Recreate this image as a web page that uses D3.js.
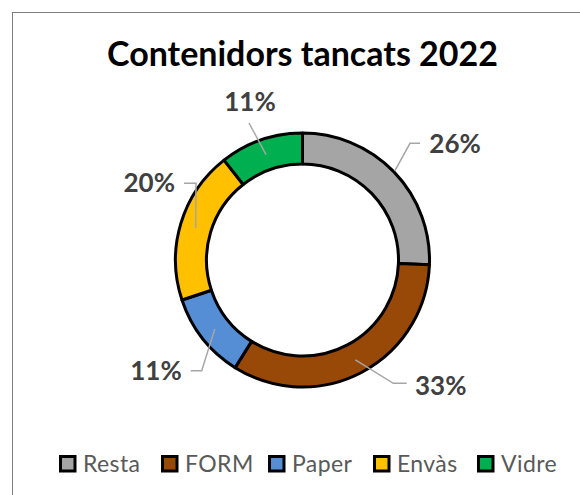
<!DOCTYPE html>
<html><head><meta charset="utf-8">
<script src="https://cdn.jsdelivr.net/npm/d3@7"></script>
<style>html,body{margin:0;padding:0;background:#fff;}svg{display:block;}</style>
</head><body>
<svg id="c" width="580" height="495"></svg>
<script>
const categories = ["Resta", "FORM", "Paper", "Envàs", "Vidre"];
const values = [25.6, 33.3, 11.0, 19.5, 10.6];
const colors = ["#a5a5a5", "#984807", "#558ed5", "#ffc000", "#00b050"];
const title = "Contenidors tancats 2022";

const svg = d3.select("#c");
svg.append("rect").attr("x", 12.5).attr("y", 12.5).attr("width", 600).attr("height", 600)
  .attr("fill", "#fff").attr("stroke", "#7f7f7f").attr("stroke-width", 1);

svg.append("text").attr("x", 302.5).attr("y", 66).attr("text-anchor", "middle")
  .attr("font-family", "Lato").attr("font-weight", "bold").attr("font-size", 34)
  .attr("fill", "#000").text(title);

const cx = 302.5, cy = 260, rOut = 127, rIn = 96;
const pie = d3.pie().sort(null).value(d => d)(values);
const arc = d3.arc().innerRadius(rIn).outerRadius(rOut);
const g = svg.append("g").attr("transform", `translate(${cx},${cy})`);
g.selectAll("path").data(pie).join("path")
  .attr("d", arc).attr("fill", (d, i) => colors[i])
  .attr("stroke", "#000").attr("stroke-width", 3).attr("stroke-linejoin", "round");

const total = d3.sum(values);
const fmt = v => Math.round(v / total * 100) + "%";
const mid = d => (d.startAngle + d.endAngle) / 2;
const pt = (a, r) => [Math.sin(a) * r, -Math.cos(a) * r];
const lab = [
  {r: 128, elbow: [107.5, -116.7], end: [117.5, -116.7], tx: 126.8, ty: -106.7, anchor: "start"},
  {r: 113, elbow: [90.8, 123.3], end: [104.2, 123.3], tx: 112.5, ty: 135, anchor: "start"},
  {r: 111.5, elbow: [-100.8, 110.7], end: [-111.8, 110.7], tx: -120.8, ty: 120, anchor: "end"},
  {r: 111.5, elbow: [-106.5, -76.7], end: [-118.5, -76.7], tx: -127.5, ty: -67.7, anchor: "end"},
  {r: 111.5, elbow: [-53.5, -137], end: null, tx: -52.5, ty: -149, anchor: "middle"}
];
const lg = svg.append("g").attr("transform", `translate(${cx},${cy})`);
pie.forEach((d, i) => {
  const L = lab[i];
  const p0 = pt(mid(d), L.r);
  const pts = [p0, L.elbow];
  if (L.end) pts.push(L.end);
  lg.append("polyline").attr("points", pts.map(p => p.join(",")).join(" "))
    .attr("fill", "none").attr("stroke", "#a6a6a6").attr("stroke-width", 1.5);
  lg.append("text").attr("x", L.tx).attr("y", L.ty).attr("text-anchor", L.anchor)
    .attr("font-family", "Lato").attr("font-weight", "bold").attr("font-size", 26)
    .attr("fill", "#404040").text(fmt(values[i]));
});

const legX = [59, 161, 268, 373, 477];
const leg = svg.append("g");
categories.forEach((c, i) => {
  leg.append("rect").attr("x", legX[i] + 1.5).attr("y", 456.5).attr("width", 14.5).attr("height", 14.5)
    .attr("fill", colors[i]).attr("stroke", "#000").attr("stroke-width", 3);
  leg.append("text").attr("x", legX[i] + 24).attr("y", 471.5)
    .attr("font-family", "Lato").attr("font-size", 23).attr("letter-spacing", 0.4)
    .attr("fill", "#595959").text(c);
});
</script>
</body></html>
